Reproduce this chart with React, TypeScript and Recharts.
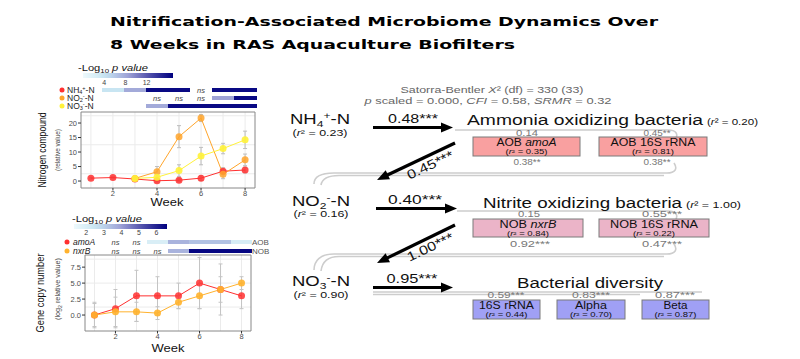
import React from 'react';
import { LineChart, Line, XAxis, YAxis, CartesianGrid, ErrorBar, ReferenceArea } from 'recharts';

const FONT = '"Liberation Sans", Arial, Helvetica, sans-serif';
const TITLE_FONT = '"DejaVu Sans", Verdana, sans-serif';

// ---- top panel: nitrogen compounds (relative value)
const weeks = [1, 2, 3, 4, 5, 6, 7, 8];
const nh4 = [1.0, 1.2, 0.7, 0.1, 0.3, 1.0, 3.4, 3.8];
const nh4Err = [0.3, 0.4, 0.5, 0.4, 0.5, 0.8, 1.2, 1.0];
const no2 = [null, null, 0.9, 3.2, 15.3, 21.7, 2.3, 7.3];
const no2Err = [null, null, 0.5, 1.8, 3.8, 1.2, 1.5, 2.0];
const no3 = [null, null, 0.9, 1.3, 3.6, 8.6, 11.2, 14.2];
const no3Err = [null, null, 0.3, 0.8, 2.0, 3.0, 1.8, 3.0];

// ---- bottom panel: gene copy number (log2 relative value)
const amoA = [0, 1, 3, 3, 3, 5, 4, 3];
const amoAErr = [2, 3, 4, 3, 2, 4, 4, 2];
const nxrB = [0, 0.5, 0.5, 0.3, 2, 3, 4, 5];
const nxrBErr = [1.8, 2.3, 1.5, 1, 1, 2, 2, 1];

// -log10 p value per week ('ns' = not significant, null = blank)
const nh4Sig = [null, 4, 8, 16.5, 16.5, 'ns', 16.5, 16.5];
const no2Sig = [null, null, null, 'ns', 'ns', 'ns', 8.5, 16.5];
const no3Sig = [null, null, null, 8, 16.5, 16.5, 16.5, 16.5];
const amoASig = [null, 'ns', 'ns', 2.0, 3.6, 3.3, 3.3, 2.1];
const nxrBSig = [null, 'ns', 'ns', 'ns', 3.6, 6.5, 6.5, 6.5];

const topTicks = [4, 8, 12];
const bottomTicks = [2, 3, 4, 5, 6];

const nitroData = weeks.map((w, i) => ({
  week: w,
  nh4: nh4[i], nh4Err: nh4Err[i],
  no2: no2[i], no2Err: no2Err[i],
  no3: no3[i], no3Err: no3Err[i],
}));
const geneData = weeks.map((w, i) => ({
  week: w,
  amoA: amoA[i], amoAErr: amoAErr[i],
  nxrB: nxrB[i], nxrBErr: nxrBErr[i],
}));

const RED = '#ff3030';
const ORANGE = '#ffa52b';
const YELLOW = '#fff23a';
const GENE_ORANGE = '#ffb22e';

const X_DOMAIN: [number, number] = [0.55, 8.45];

// colour ramp for the -log10 p bars
const rampStops: [number, string][] = [
  [0, '#eef9fc'], [0.25, '#c6e4f1'], [0.5, '#9ea2d6'], [0.75, '#4b4ba8'], [1, '#00007f'],
];
const hex = (c: string) => [1, 3, 5].map((k) => parseInt(c.slice(k, k + 2), 16));
function ramp(t: number) {
  t = Math.max(0, Math.min(1, t));
  for (let i = 1; i < rampStops.length; i++) {
    const [t1, c1] = rampStops[i];
    const [t0, c0] = rampStops[i - 1];
    if (t <= t1) {
      const f = (t - t0) / (t1 - t0);
      const a = hex(c0), b = hex(c1);
      return 'rgb(' + a.map((v, k) => Math.round(v + (b[k] - v) * f)).join(',') + ')';
    }
  }
  return rampStops[rampStops.length - 1][1];
}

function SigRow({ y, sig, left, width, lo, hi }: any) {
  const sx = (w: number) => left + ((w - X_DOMAIN[0]) / (X_DOMAIN[1] - X_DOMAIN[0])) * width;
  return (
    <g>
      {sig.map((s: any, i: number) => {
        const w = weeks[i];
        if (s == null) return null;
        if (s === 'ns') {
          return (
            <text key={i} x={sx(w)} y={y + 2.6} fontSize={7.5} fontStyle="italic" fill="#444"
              textAnchor="middle" fontFamily={FONT}>ns</text>
          );
        }
        return (
          <rect key={i} x={sx(w - 0.5)} y={y - 2.4} width={sx(w + 0.5) - sx(w - 0.5) + 0.4} height={4.8}
            fill={ramp((s - lo) / (hi - lo))} shapeRendering="crispEdges" />
        );
      })}
    </g>
  );
}

function PLegend({ x, y, barX, barW, lo, hi, ticks, id, tickDy }: any) {
  const stops = [0, 0.1, 0.2, 0.3, 0.4, 0.5, 0.6, 0.7, 0.8, 0.9, 1];
  return (
    <g>
      <defs>
        <linearGradient id={id} x1="0" x2="1" y1="0" y2="0">
          {stops.map((s) => <stop key={s} offset={s} stopColor={ramp(s)} />)}
        </linearGradient>
      </defs>
      <text x={x} y={y} fontSize={8.5} fontFamily={FONT} fill="#111" textLength={70} lengthAdjust="spacingAndGlyphs">
        -Log<tspan fontSize={6} dy={2}>10</tspan><tspan dy={-2} fontStyle="italic"> p value</tspan>
      </text>
      <rect x={barX} y={y + 2} width={barW} height={5} fill={`url(#${id})`} />
      {ticks.map((t: number) => (
        <text key={t} x={barX + ((t - lo) / (hi - lo)) * barW} y={y + tickDy} fontSize={7}
          fontFamily={FONT} fill="#444" textAnchor="middle">{t}</text>
      ))}
    </g>
  );
}

function Ion({ x, y, base, sub, sup, size, len }: any) {
  const s = size * 0.65;
  return (
    <text x={x} y={y} fontSize={size} fontFamily={FONT} fill="#111" textLength={len} lengthAdjust="spacingAndGlyphs">
      {base}<tspan fontSize={s} dy={size * 0.18}>{sub}</tspan><tspan fontSize={s} dy={-size * 0.54}>{sup}</tspan><tspan dy={size * 0.36}>-N</tspan>
    </text>
  );
}

function RowLabel({ x, y, base, sub, sup }: any) {
  return (
    <text x={x} y={y} fontSize={8.5} fontFamily={FONT} fill="#222">
      {base}<tspan fontSize={5.5} dy={1.5}>{sub}</tspan><tspan fontSize={5.5} dy={-4.5}>{sup}</tspan><tspan dy={3}>-N</tspan>
    </text>
  );
}

function T({ x, y, len, size, fill = '#111', anchor = 'start', children, rotate }: any) {
  return (
    <text x={x} y={y} fontSize={size} fill={fill} textAnchor={anchor} fontFamily={FONT}
      textLength={len} lengthAdjust="spacingAndGlyphs"
      transform={rotate ? `rotate(${rotate} ${x} ${y})` : undefined}>
      {children}
    </text>
  );
}

const R2 = ({ v }: any) => (<>(<tspan fontStyle="italic">r</tspan>² = {v})</>);

function Arrow({ x1, y1, x2, y2 }: any) {
  const dx = x2 - x1, dy = y2 - y1, L = Math.hypot(dx, dy);
  const ux = dx / L, uy = dy / L, hl = 12, hw = 5;
  const bx = x2 - ux * hl, by = y2 - uy * hl;
  const pts = `${x2},${y2} ${bx - uy * hw},${by + ux * hw} ${bx + uy * hw},${by - ux * hw}`;
  return (
    <g>
      <line x1={x1} y1={y1} x2={bx + ux} y2={by + uy} stroke="#000" strokeWidth={3.2} />
      <polygon points={pts} fill="#000" />
    </g>
  );
}

function Box({ x, y, w, h, fill, r2, labelLen, children }: any) {
  return (
    <g>
      <rect x={x} y={y} width={w} height={h} fill={fill} stroke="#7a7a7a" strokeWidth={1} />
      <T x={x + w / 2} y={y + 9} size={10} len={labelLen} anchor="middle">{children}</T>
      <T x={x + w / 2} y={y + 16.5} size={6.5} len={42} anchor="middle"><R2 v={r2} /></T>
    </g>
  );
}

const gray = '#cdcdcd';

function Diagram() {
  return (
    <g>
      {/* covariance curves */}
      <g fill="none" stroke={gray} strokeWidth={1.6}>
        <path d="M455,130 L668,130 C676,130 679,134 675,140" />
        <path d="M314,184 C314,177 320,173 334,173 L667,173 C675,173 678,169 674,163" />
        <path d="M321,185 C322,179 327,175.5 339,175.5 L664,175.5" />
        <path d="M457,211 L668,211 C676,211 679,215 675,221" />
        <path d="M314,270 C314,261 320,254 334,254 L667,254 C675,254 678,250 674,244" />
        <path d="M321,271 C322,263 327,256.5 339,256.5 L664,256.5" />
        <path d="M373,292 L702,292" />
        <path d="M373,294.5 L640,294.5" />
      </g>

      <T x={492} y={93} size={9} len={183} fill="#666" anchor="middle">
        Satorra-Bentler <tspan fontStyle="italic">X</tspan>² (df) = 330 (33)
      </T>
      <T x={488} y={104} size={9} len={247} fill="#666" anchor="middle">
        <tspan fontStyle="italic">p</tspan> scaled = 0.000, <tspan fontStyle="italic">CFI</tspan> = 0.58, <tspan fontStyle="italic">SRMR</tspan> = 0.32
      </T>

      {/* observed nitrogen */}
      <Ion x={290} y={124} base="NH" sub="4" sup="+" size={15} len={60} />
      <T x={320} y={136} size={8.5} len={55} anchor="middle"><R2 v="0.23" /></T>
      <Ion x={292} y={206} base="NO" sub="2" sup="-" size={15} len={58} />
      <T x={321} y={217} size={8.5} len={55} anchor="middle"><R2 v="0.16" /></T>
      <Ion x={292} y={286} base="NO" sub="3" sup="-" size={15} len={58} />
      <T x={321} y={298} size={8.5} len={55} anchor="middle"><R2 v="0.90" /></T>

      {/* paths */}
      <Arrow x1={373} y1={127.5} x2={453} y2={127.5} />
      <T x={413} y={123} size={13} len={50} anchor="middle">0.48***</T>
      <Arrow x1={455} y1={143} x2={377} y2={180} />
      <T x={432} y={169} size={13} len={50} anchor="middle" rotate={-25.4}>0.45***</T>
      <Arrow x1={376} y1={208.5} x2={457} y2={208.5} />
      <T x={415} y={204} size={13} len={54} anchor="middle">0.40***</T>
      <Arrow x1={455} y1={225} x2={377} y2={263} />
      <T x={432} y={251} size={13} len={50} anchor="middle" rotate={-25.4}>1.00***</T>
      <Arrow x1={373} y1={287.5} x2={453} y2={287.5} />
      <T x={412} y={283} size={13} len={51} anchor="middle">0.95***</T>

      {/* latent: AOB */}
      <T x={467} y={125} size={14} len={236}>Ammonia oxidizing bacteria</T>
      <T x={707} y={125} size={9} len={51}><R2 v="0.20" /></T>
      <T x={527} y={136} size={9} len={22} fill="#777" anchor="middle">0.14</T>
      <T x={657} y={136} size={9} len={27} fill="#777" anchor="middle">0.45**</T>
      <Box x={473} y={137} w={107} h={19} fill="#f9a0a0" r2="0.35" labelLen={60}>
        AOB <tspan fontStyle="italic">amoA</tspan>
      </Box>
      <Box x={599} y={137} w={108} h={19} fill="#f9a0a0" r2="0.81" labelLen={85}>AOB 16S rRNA</Box>
      <T x={527} y={165} size={9} len={27} fill="#777" anchor="middle">0.38**</T>
      <T x={657} y={165} size={9} len={27} fill="#777" anchor="middle">0.38**</T>

      {/* latent: NOB */}
      <T x={483} y={208} size={14} len={199}>Nitrite oxidizing bacteria</T>
      <T x={686} y={208} size={9} len={55}><R2 v="1.00" /></T>
      <T x={529} y={217} size={9} len={22} fill="#777" anchor="middle">0.15</T>
      <T x={662} y={217} size={9} len={40} fill="#777" anchor="middle">0.55***</T>
      <Box x={473} y={219} w={110} h={18} fill="#ebb4c8" r2="0.84" labelLen={57}>
        NOB <tspan fontStyle="italic">nxrB</tspan>
      </Box>
      <Box x={599} y={219} w={110} h={18} fill="#ebb4c8" r2="0.22" labelLen={88}>NOB 16S rRNA</Box>
      <T x={530} y={247} size={9} len={40} fill="#777" anchor="middle">0.92***</T>
      <T x={662} y={247} size={9} len={40} fill="#777" anchor="middle">0.47***</T>

      {/* latent: diversity */}
      <T x={590} y={288} size={14} len={146} anchor="middle">Bacterial diversity</T>
      <T x={506} y={298} size={9} len={37} fill="#777" anchor="middle">0.59***</T>
      <T x={591} y={298} size={9} len={38} fill="#777" anchor="middle">0.83***</T>
      <T x={675} y={298} size={9} len={40} fill="#777" anchor="middle">0.87***</T>
      <Box x={473} y={300} w={67} h={19} fill="#a0a0f5" r2="0.44" labelLen={55}>16S rRNA</Box>
      <Box x={557} y={300} w={68} h={19} fill="#a0a0f5" r2="0.70" labelLen={32}>Alpha</Box>
      <Box x={642} y={300} w={67} h={19} fill="#a0a0f5" r2="0.87" labelLen={24}>Beta</Box>
    </g>
  );
}

const tickStyle = { fontSize: 7.5, fill: '#4d4d4d', fontFamily: FONT };

export default function App() {
  return (
    <div style={{ position: 'absolute', left: 0, top: 0, width: 800, height: 359, background: '#fff', overflow: 'hidden' }}>
      {/* upper panel */}
      <div style={{ position: 'absolute', left: 0, top: 100 }}>
        <LineChart width={270} height={110} data={nitroData} margin={{ top: 12, right: 15, bottom: 10, left: 0 }}>
          <CartesianGrid stroke="#ebebeb" verticalValues={weeks}
            horizontalValues={[0, 2.5, 5, 7.5, 10, 12.5, 15, 17.5, 20, 22.5]} />
          <XAxis dataKey="week" type="number" domain={X_DOMAIN} ticks={[2, 4, 6, 8]} allowDataOverflow
            height={12} axisLine={false} tickSize={2.5} tickMargin={0} tickLine={{ stroke: '#333' }} tick={tickStyle} />
          <YAxis type="number" domain={[-2.4, 23.8]} ticks={[0, 5, 10, 15, 20]} allowDataOverflow
            width={81} axisLine={false} tickSize={3} tickMargin={1} tickLine={{ stroke: '#333' }} tick={tickStyle} />
          <ReferenceArea x1={0.55} x2={8.45} y1={-2.4} y2={23.8} fill="none" stroke="#888" ifOverflow="visible" />
          <Line dataKey="nh4" stroke={RED} strokeWidth={1} isAnimationActive={false} activeDot={false}
            dot={{ r: 3.5, fill: RED, stroke: 'none', fillOpacity: 0.85 }}>
            <ErrorBar dataKey="nh4Err" direction="y" width={2} stroke="#bdbdbd" strokeWidth={1} />
          </Line>
          <Line dataKey="no2" stroke={ORANGE} strokeWidth={1} isAnimationActive={false} activeDot={false}
            dot={{ r: 3.5, fill: ORANGE, stroke: 'none', fillOpacity: 0.85 }}>
            <ErrorBar dataKey="no2Err" direction="y" width={2} stroke="#bdbdbd" strokeWidth={1} />
          </Line>
          <Line dataKey="no3" stroke={YELLOW} strokeWidth={1} isAnimationActive={false} activeDot={false}
            dot={{ r: 3.5, fill: YELLOW, stroke: 'none', fillOpacity: 0.9 }}>
            <ErrorBar dataKey="no3Err" direction="y" width={2} stroke="#bdbdbd" strokeWidth={1} />
          </Line>
        </LineChart>
      </div>

      {/* lower panel */}
      <div style={{ position: 'absolute', left: 0, top: 240 }}>
        <LineChart width={270} height={110} data={geneData} margin={{ top: 15, right: 19, bottom: 7, left: 0 }}>
          <CartesianGrid stroke="#ebebeb" verticalValues={weeks}
            horizontalValues={[-1.25, 0, 1.25, 2.5, 3.75, 5, 6.25, 7.5, 8.75]} />
          <XAxis dataKey="week" type="number" domain={X_DOMAIN} ticks={[2, 4, 6, 8]} allowDataOverflow
            height={12} axisLine={false} tickSize={2.5} tickMargin={0} tickLine={{ stroke: '#333' }} tick={tickStyle} />
          <YAxis type="number" domain={[-2.5, 9.4]} ticks={[0, 2.5, 5, 7.5]} allowDataOverflow
            tickFormatter={(v: number) => v.toFixed(1)}
            width={85} axisLine={false} tickSize={3} tickMargin={1} tickLine={{ stroke: '#333' }} tick={tickStyle} />
          <ReferenceArea x1={0.55} x2={8.45} y1={-2.5} y2={9.4} fill="none" stroke="#888" ifOverflow="visible" />
          <Line dataKey="amoA" stroke={RED} strokeWidth={1} isAnimationActive={false} activeDot={false}
            dot={{ r: 3.5, fill: RED, stroke: 'none', fillOpacity: 0.85 }}>
            <ErrorBar dataKey="amoAErr" direction="y" width={2} stroke="#c4c4c4" strokeWidth={1} />
          </Line>
          <Line dataKey="nxrB" stroke={GENE_ORANGE} strokeWidth={1} isAnimationActive={false} activeDot={false}
            dot={{ r: 3.5, fill: GENE_ORANGE, stroke: 'none', fillOpacity: 0.9 }}>
            <ErrorBar dataKey="nxrBErr" direction="y" width={2} stroke="#c4c4c4" strokeWidth={1} />
          </Line>
        </LineChart>
      </div>

      {/* overlay: titles, legends, SEM diagram */}
      <svg width={800} height={359} style={{ position: 'absolute', left: 0, top: 0, pointerEvents: 'none' }}>
        <text x={110} y={26} fontFamily={TITLE_FONT} fontWeight="bold" fontSize={12.5} fill="#000"
          textLength={548} lengthAdjust="spacingAndGlyphs">Nitrification-Associated Microbiome Dynamics Over</text>
        <text x={110} y={49} fontFamily={TITLE_FONT} fontWeight="bold" fontSize={12.5} fill="#000"
          textLength={405} lengthAdjust="spacingAndGlyphs">8 Weeks in RAS Aquaculture Biofilters</text>

        {/* upper legend */}
        <PLegend id="g1" x={78} y={71} barX={83} barW={90} lo={0} hi={17} ticks={topTicks} tickDy={13.5} />
        <circle cx={62} cy={90} r={2.5} fill={RED} />
        <RowLabel x={67} y={92.5} base="NH" sub="4" sup="+" />
        <circle cx={62} cy={98} r={2.5} fill={ORANGE} />
        <RowLabel x={67} y={100.5} base="NO" sub="2" sup="-" />
        <circle cx={62} cy={106} r={2.5} fill={YELLOW} />
        <RowLabel x={67} y={108.5} base="NO" sub="3" sup="-" />
        <SigRow y={90} sig={nh4Sig} left={81} width={174} lo={0} hi={17} />
        <SigRow y={98} sig={no2Sig} left={81} width={174} lo={0} hi={17} />
        <SigRow y={106} sig={no3Sig} left={81} width={174} lo={0} hi={17} />

        <T x={167} y={206} size={10.5} len={33} anchor="middle">Week</T>
        <T x={46} y={150} size={10} len={75} anchor="middle" rotate={-90}>Nitrogen compound</T>
        <T x={60} y={150} size={7} len={42} anchor="middle" fill="#444" rotate={-90}>(relative value)</T>

        {/* lower legend */}
        <PLegend id="g2" x={72} y={222} barX={74} barW={93} lo={1.3} hi={6.6} ticks={bottomTicks} tickDy={13} />
        <circle cx={67} cy={242} r={2.5} fill={RED} />
        <text x={73} y={245} fontSize={8.5} fontStyle="italic" fontFamily={FONT} fill="#222">amoA</text>
        <circle cx={67} cy={251} r={2.5} fill={GENE_ORANGE} />
        <text x={73} y={254} fontSize={8.5} fontStyle="italic" fontFamily={FONT} fill="#222">nxrB</text>
        <SigRow y={242} sig={amoASig} left={85} width={166} lo={1.3} hi={6.6} />
        <SigRow y={251} sig={nxrBSig} left={85} width={166} lo={1.3} hi={6.6} />
        <text x={252} y={245} fontSize={8} fontFamily={FONT} fill="#555">AOB</text>
        <text x={252} y={254} fontSize={8} fontFamily={FONT} fill="#555">NOB</text>

        <T x={168} y={352} size={10.5} len={33} anchor="middle">Week</T>
        <T x={44} y={293} size={10} len={79} anchor="middle" rotate={-90}>Gene copy number</T>
        <T x={60} y={289} size={7} len={62} anchor="middle" fill="#444" rotate={-90}>
          (log<tspan fontSize={5} dy={1.5}>2</tspan><tspan dy={-1.5}> relative value)</tspan>
        </T>

        <Diagram />
      </svg>
    </div>
  );
}
